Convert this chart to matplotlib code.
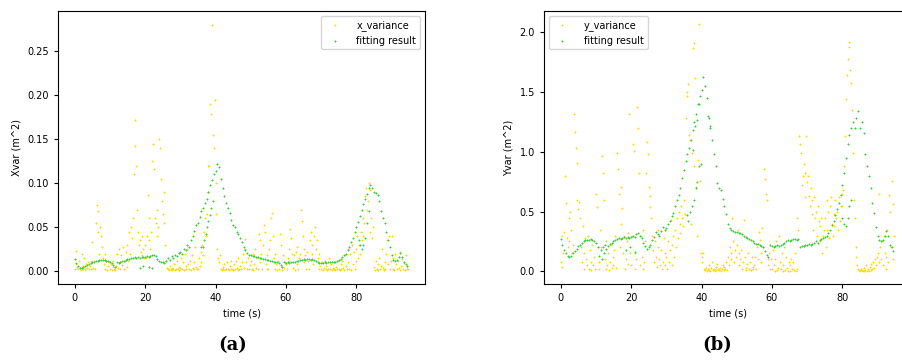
import numpy as np
import matplotlib
matplotlib.use("Agg")
import matplotlib.pyplot as plt

# ---- panel (a): x variance, sampled every 0.25 s ----
x_variance = [
    0.003, 0.008, 0.023, 0.005, 0.002, 0.012, 0.004, 0.001, 0.02, 0.006, 0.003, 0.015, 0.002, 0.008, 0.004, 0.01, 0.002, 0.006, 0.012, 0.003,
    0.033, 0.004, 0.012, 0.002, 0.055, 0.075, 0.068, 0.045, 0.02, 0.05, 0.04, 0.028, 0.015, 0.008, 0.02, 0.003, 0.012, 0.001, 0.006, 0.01,
    0.002, 0.008, 0.001, 0.005, 0.012, 0.003, 0.001, 0.006, 0.02, 0.004, 0.025, 0.01, 0.003, 0.018, 0.007, 0.028, 0.002, 0.012, 0.022, 0.005,
    0.03, 0.012, 0.045, 0.02, 0.05, 0.038, 0.06, 0.11, 0.172, 0.142, 0.12, 0.07, 0.045, 0.03, 0.035, 0.022, 0.04, 0.018, 0.025, 0.015,
    0.03, 0.015, 0.04, 0.087, 0.06, 0.035, 0.025, 0.045, 0.125, 0.145, 0.116, 0.06, 0.055, 0.04, 0.07, 0.05, 0.15, 0.14, 0.105, 0.08,
    0.065, 0.09, 0.055, 0.03, 0.012, 0.004, 0.002, 0.001, 0.006, 0.002, 0.001, 0.004, 0.002, 0.008, 0.001, 0.003, 0.012, 0.002, 0.005, 0.001,
    0.004, 0.015, 0.002, 0.01, 0.001, 0.02, 0.006, 0.003, 0.025, 0.008, 0.002, 0.012, 0.001, 0.018, 0.004, 0.002, 0.01, 0.028, 0.005, 0.003,
    0.003, 0.015, 0.006, 0.022, 0.01, 0.03, 0.018, 0.045, 0.06, 0.04, 0.065, 0.09, 0.12, 0.12, 0.19, 0.178, 0.28, 0.155, 0.14, 0.195,
    0.1, 0.065, 0.025, 0.015, 0.01, 0.018, 0.003, 0.001, 0.005, 0.002, 0.008, 0.001, 0.003, 0.01, 0.002, 0.001, 0.006, 0.002, 0.012, 0.003,
    0.001, 0.008, 0.002, 0.012, 0.004, 0.001, 0.015, 0.003, 0.006, 0.002, 0.01, 0.02, 0.004, 0.025, 0.037, 0.01, 0.003, 0.015, 0.002, 0.007,
    0.012, 0.003, 0.02, 0.001, 0.008, 0.025, 0.004, 0.015, 0.002, 0.042, 0.035, 0.01, 0.02, 0.003, 0.03, 0.052, 0.045, 0.008, 0.018, 0.002,
    0.003, 0.025, 0.035, 0.06, 0.066, 0.04, 0.015, 0.002, 0.02, 0.008, 0.001, 0.012, 0.003, 0.042, 0.03, 0.005, 0.001, 0.018, 0.004, 0.01,
    0.008, 0.002, 0.015, 0.025, 0.012, 0.048, 0.038, 0.02, 0.004, 0.018, 0.001, 0.022, 0.008, 0.028, 0.003, 0.015, 0.02, 0.069, 0.057, 0.04,
    0.025, 0.01, 0.018, 0.003, 0.022, 0.012, 0.002, 0.035, 0.045, 0.02, 0.03, 0.008, 0.04, 0.05, 0.025, 0.035, 0.015, 0.003, 0.02, 0.006,
    0.002, 0.01, 0.001, 0.004, 0.012, 0.002, 0.006, 0.001, 0.003, 0.015, 0.002, 0.008, 0.001, 0.004, 0.002, 0.01, 0.001, 0.005, 0.003, 0.012,
    0.003, 0.001, 0.008, 0.002, 0.012, 0.004, 0.001, 0.018, 0.006, 0.002, 0.025, 0.01, 0.003, 0.02, 0.001, 0.03, 0.008, 0.022, 0.002, 0.012,
    0.025, 0.04, 0.015, 0.03, 0.02, 0.045, 0.035, 0.06, 0.04, 0.055, 0.085, 0.095, 0.07, 0.08, 0.1, 0.092, 0.045, 0.06, 0.038, 0.05,
    0.005, 0.001, 0.012, 0.003, 0.008, 0.001, 0.015, 0.002, 0.006, 0.025, 0.004, 0.001, 0.01, 0.003, 0.02, 0.035, 0.008, 0.04, 0.002, 0.012,
    0.04, 0.003, 0.015, 0.001, 0.02, 0.008, 0.002, 0.012, 0.004, 0.022, 0.001, 0.006, 0.014, 0.002, 0.009, 0.001, 0.018, 0.003, 0.006, 0.002,
]

# fitting result for x, sampled every 0.5 s
x_fit = [
    0.014, 0.009, 0.006, 0.004, 0.004, 0.005, 0.006, 0.007, 0.008, 0.009,
    0.01, 0.011, 0.012, 0.012, 0.013, 0.013, 0.013, 0.013, 0.012, 0.012,
    0.011, 0.009, 0.007, 0.005, 0.01, 0.009, 0.011, 0.012, 0.012, 0.013,
    0.014, 0.014, 0.015, 0.015, 0.016, 0.015, 0.016, 0.015, 0.016, 0.016,
    0.016, 0.017, 0.016, 0.017, 0.018, 0.019, 0.017, 0.014, 0.012, 0.011,
    0.01, 0.009, 0.012, 0.015, 0.013, 0.017, 0.015, 0.019, 0.017, 0.021,
    0.022, 0.02, 0.025, 0.024, 0.03, 0.028, 0.035, 0.04, 0.046, 0.052,
    0.055, 0.062, 0.068, 0.072, 0.078, 0.082, 0.09, 0.098, 0.104, 0.11,
    0.114, 0.122, 0.118, 0.105, 0.094, 0.086, 0.078, 0.072, 0.066, 0.058,
    0.052, 0.05, 0.045, 0.042, 0.038, 0.033, 0.028, 0.024, 0.021, 0.019,
    0.018, 0.017, 0.017, 0.016, 0.016, 0.015, 0.015, 0.014, 0.014, 0.013,
    0.013, 0.012, 0.012, 0.011, 0.011, 0.01, 0.009, 0.007, 0.005, 0.01,
    0.009, 0.01, 0.009, 0.011, 0.01, 0.011, 0.012, 0.012, 0.013, 0.013,
    0.014, 0.013, 0.014, 0.014, 0.013, 0.014, 0.013, 0.012, 0.01, 0.009,
    0.009, 0.009, 0.01, 0.009, 0.01, 0.01, 0.011, 0.01, 0.011, 0.012,
    0.013, 0.014, 0.016, 0.018, 0.02, 0.024, 0.028, 0.033, 0.038, 0.044,
    0.05, 0.056, 0.063, 0.07, 0.076, 0.082, 0.088, 0.094, 0.098, 0.095,
    0.09, 0.089, 0.087, 0.08, 0.068, 0.06, 0.055, 0.045, 0.036, 0.027,
    0.018, 0.013, 0.012, 0.013, 0.016, 0.021, 0.016, 0.01, 0.008, 0.006,
]
# stray fitting points off the main track (time, value)
x_fit_extra_t = [18.5, 19.5, 21.2, 22.0, 35.8, 36.3, 36.8, 37.2, 37.6, 38.0, 38.4, 38.8, 39.2,
                 80.6, 81.0, 81.5, 82.0, 82.5, 83.0, 83.5]
x_fit_extra_v = [0.004, 0.006, 0.005, 0.004, 0.028, 0.027, 0.035, 0.042, 0.05, 0.057, 0.064, 0.072, 0.08,
                 0.035, 0.03, 0.025, 0.03, 0.038, 0.055, 0.068]

# ---- panel (b): y variance, sampled every 0.25 s ----
y_variance = [
    0.08, 0.04, 0.3, 0.15, 0.33, 0.8, 0.57, 0.28, 0.2, 0.45, 0.25, 0.5, 0.35, 0.15, 0.22, 1.32, 1.17, 1.03, 0.91, 0.6,
    0.52, 0.58, 0.45, 0.2, 0.08, 0.38, 0.15, 0.02, 0.28, 0.1, 0.05, 0.3, 0.02, 0.18, 0.08, 0.01, 0.22, 0.05, 0.12, 0.02,
    0.65, 0.54, 0.2, 0.02, 0.08, 0.35, 0.2, 0.97, 0.82, 0.6, 0.1, 0.02, 0.25, 0.05, 0.15, 0.01, 0.08, 0.22, 0.03, 0.12,
    0.05, 0.18, 0.3, 0.03, 0.99, 0.86, 0.65, 0.2, 0.4, 0.71, 0.53, 0.15, 0.3, 0.02, 0.1, 0.25, 0.06, 0.32, 1.32, 0.15,
    0.05, 0.3, 1.07, 1.01, 0.15, 0.02, 0.1, 1.38, 1.2, 0.82, 0.05, 0.3, 0.12, 0.02, 0.35, 0.08, 0.25, 0.82, 1.08, 0.98,
    0.71, 0.63, 0.54, 0.45, 0.3, 0.18, 0.08, 0.25, 0.12, 0.04, 0.2, 0.35, 0.1, 0.05, 0.18, 0.02, 0.08, 0.28, 0.15, 0.05,
    0.12, 0.02, 0.25, 0.08, 0.18, 0.43, 0.05, 0.22, 0.3, 0.12, 0.35, 0.2, 0.45, 0.28, 0.5, 0.32, 0.4, 0.55, 0.45, 0.38,
    0.6, 0.48, 1.28, 1.47, 1.5, 1.57, 1.14, 1.1, 0.4, 0.99, 1.87, 1.91, 0.88, 1.62, 0.71, 0.3, 0.93, 2.07, 0.76, 0.15,
    0.12, 0.08, 0.15, 0.02, 0.01, 0.03, 0.0, 0.02, 0.05, 0.01, 0.0, 0.03, 0.08, 0.01, 0.02, 0.0, 0.04, 0.01, 0.06, 0.02,
    0.01, 0.03, 0.0, 0.02, 0.05, 0.01, 0.04, 0.02, 0.08, 0.01, 0.12, 0.05, 0.2, 0.1, 0.15, 0.45, 0.25, 0.08, 0.18, 0.12,
    0.22, 0.35, 0.15, 0.05, 0.1, 0.18, 0.02, 0.08, 0.43, 0.12, 0.03, 0.01, 0.06, 0.15, 0.02, 0.08, 0.01, 0.12, 0.04, 0.02,
    0.05, 0.12, 0.02, 0.2, 0.1, 0.33, 0.26, 0.15, 0.08, 0.36, 0.2, 0.86, 0.77, 0.65, 0.6, 0.1, 0.05, 0.15, 0.02, 0.1,
    0.02, 0.18, 0.05, 0.0, 0.1, 0.25, 0.01, 0.03, 0.3, 0.08, 0.02, 0.15, 0.0, 0.05, 0.2, 0.01, 0.12, 0.03, 0.0, 0.08,
    0.05, 0.0, 0.1, 0.02, 0.08, 0.01, 0.15, 0.0, 0.02, 0.45, 0.35, 1.13, 1.07, 0.99, 0.72, 0.8, 0.9, 0.82, 0.62, 1.13,
    0.75, 0.8, 0.63, 0.55, 0.7, 0.6, 0.48, 0.35, 0.62, 0.45, 0.5, 0.3, 0.55, 0.42, 0.38, 0.25, 0.45, 0.15, 0.3, 0.35,
    0.45, 0.2, 0.6, 0.35, 0.5, 0.28, 0.55, 0.62, 0.4, 0.3, 0.48, 0.38, 0.6, 0.45, 0.5, 0.35, 0.62, 0.42, 0.55, 0.65,
    0.55, 0.68, 0.88, 1.13, 1.44, 1.64, 1.78, 1.92, 1.88, 1.69, 1.58, 1.35, 0.99, 0.6, 0.45, 0.2, 0.12, 0.05, 0.02, 0.01,
    0.0, 0.02, 0.01, 0.0, 0.03, 0.0, 0.01, 0.05, 0.0, 0.02, 0.0, 0.04, 0.01, 0.06, 0.02, 0.08, 0.03, 0.1, 0.05, 0.12,
    0.15, 0.08, 0.65, 0.2, 0.1, 0.25, 0.05, 0.3, 0.15, 0.02, 0.12, 0.35, 0.08, 0.64, 0.5, 0.2, 0.76, 0.56, 0.1, 0.3,
]

# fitting result for y, sampled every 0.5 s
y_fit = [
    0.27, 0.22, 0.18, 0.15, 0.13, 0.12, 0.13, 0.15, 0.17, 0.19,
    0.21, 0.22, 0.24, 0.25, 0.26, 0.26, 0.26, 0.27, 0.26, 0.25,
    0.24, 0.2, 0.13, 0.18, 0.2, 0.22, 0.19, 0.21, 0.23, 0.24,
    0.25, 0.26, 0.27, 0.28, 0.27, 0.28, 0.29, 0.28, 0.29, 0.28,
    0.29, 0.3, 0.29, 0.31, 0.32, 0.3, 0.28, 0.24, 0.21, 0.19,
    0.2, 0.22, 0.26, 0.29, 0.33, 0.31, 0.3, 0.34, 0.37, 0.35,
    0.36, 0.4, 0.42, 0.46, 0.49, 0.55, 0.6, 0.64, 0.7, 0.78,
    0.85, 0.92, 0.98, 1.03, 1.1, 1.18, 1.25, 1.32, 1.4, 1.47,
    1.52, 1.63, 1.55, 1.45, 1.28, 1.22, 1.1, 0.98, 0.88, 0.74,
    0.7, 0.68, 0.61, 0.55, 0.48, 0.4, 0.36, 0.35, 0.34, 0.33,
    0.33, 0.32, 0.32, 0.31, 0.3, 0.29, 0.28, 0.27, 0.26, 0.25,
    0.24, 0.23, 0.23, 0.22, 0.21, 0.2, 0.17, 0.14, 0.12, 0.22,
    0.21, 0.2, 0.21, 0.22, 0.21, 0.22, 0.23, 0.24, 0.25, 0.26,
    0.25, 0.26, 0.27, 0.27, 0.26, 0.27, 0.2, 0.21, 0.21, 0.22,
    0.22, 0.23, 0.22, 0.23, 0.24, 0.25, 0.24, 0.26, 0.27, 0.28,
    0.29, 0.3, 0.32, 0.35, 0.39, 0.42, 0.47, 0.52, 0.57, 0.64,
    0.72, 0.82, 0.95, 1.07, 1.14, 1.2, 1.25, 1.2, 1.28, 1.34,
    1.2, 1.25, 1.16, 0.98, 0.88, 0.8, 0.7, 0.57, 0.49, 0.37,
    0.3, 0.26, 0.25, 0.26, 0.3, 0.34, 0.3, 0.22, 0.2, 0.17,
]
y_fit_extra_t = [11.6, 12.2, 18.5, 19.8, 21.2, 35.8, 36.3, 36.8, 37.3, 37.8, 38.3, 38.8, 39.3, 39.8,
                 37.5, 38.2, 38.7, 39.2, 41.8, 42.3, 80.0, 80.5, 81.0, 81.5, 82.0, 82.5]
y_fit_extra_v = [0.1, 0.15, 0.18, 0.2, 0.16, 0.47, 0.42, 0.5, 0.55, 0.6, 0.7, 0.75, 0.88, 0.9,
                 1.02, 1.22, 1.27, 1.4, 1.3, 1.2, 0.45, 0.4, 0.38, 0.45, 0.55, 0.6]

YELLOW = "#FFD700"
GREEN = "#32CD32"


def panel(ax, var, fit, ex_t, ex_v, var_label, ylabel, legend_loc):
    t_var = np.arange(len(var)) * 0.25
    t_fit = np.arange(len(fit)) * 0.5
    ax.scatter(t_var, var, s=3, marker="+", linewidths=0.7, color=YELLOW, label=var_label)
    ax.scatter(np.concatenate([t_fit, ex_t]), np.concatenate([fit, ex_v]),
               s=3, marker="+", linewidths=0.7, color=GREEN, label="fitting result")
    ax.set_xlabel("time (s)", fontsize=7)
    ax.set_ylabel(ylabel, fontsize=7)
    ax.set_xticks([0, 20, 40, 60, 80])
    ax.tick_params(labelsize=7, length=3)
    ax.legend(loc=legend_loc, fontsize=7, scatterpoints=1, markerscale=0.7, handletextpad=1.2)


fig = plt.figure(figsize=(9.03, 3.63), dpi=100)
ax1 = fig.add_axes([0.0642, 0.2176, 0.4065, 0.7521])
ax2 = fig.add_axes([0.6024, 0.2176, 0.4065, 0.7521])

panel(ax1, x_variance, x_fit, x_fit_extra_t, x_fit_extra_v, "x_variance", "Xvar (m^2)", "upper right")
panel(ax2, y_variance, y_fit, y_fit_extra_t, y_fit_extra_v, "y_variance", "Yvar (m^2)", "upper left")
ax1.set_ylim(-0.0145, 0.2955)
ax2.set_ylim(-0.106, 2.18)
ax1.set_yticks([0.0, 0.05, 0.10, 0.15, 0.20, 0.25])
ax1.set_yticklabels(["0.00", "0.05", "0.10", "0.15", "0.20", "0.25"])

fig.text(0.258, 0.035, "(a)", ha="center", fontsize=13, fontweight="bold", family="serif")
fig.text(0.794, 0.035, "(b)", ha="center", fontsize=13, fontweight="bold", family="serif")

fig.savefig("out.png", dpi=100)
